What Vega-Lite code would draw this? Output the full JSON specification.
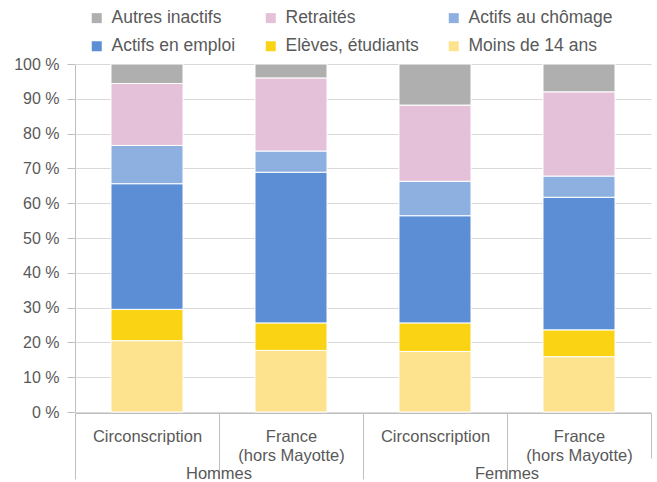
{
  "$schema": "https://vega.github.io/schema/vega-lite/v6.json",
  "padding": {"left": 5, "top": 9, "right": 5, "bottom": 0},
  "config": {
    "font": "Liberation Sans",
    "view": {"stroke": null},
    "facet": {"spacing": 0}
  },
  "data": {
    "values": [
      {"sexe": "Hommes", "zone": "Circonscription", "categorie": "Moins de 14 ans", "pct": 20.5},
      {"sexe": "Hommes", "zone": "Circonscription", "categorie": "Elèves, étudiants", "pct": 9.0},
      {"sexe": "Hommes", "zone": "Circonscription", "categorie": "Actifs en emploi", "pct": 36.1},
      {"sexe": "Hommes", "zone": "Circonscription", "categorie": "Actifs au chômage", "pct": 11.0},
      {"sexe": "Hommes", "zone": "Circonscription", "categorie": "Retraités", "pct": 17.8},
      {"sexe": "Hommes", "zone": "Circonscription", "categorie": "Autres inactifs", "pct": 5.6},
      {"sexe": "Hommes", "zone": "France (hors Mayotte)", "categorie": "Moins de 14 ans", "pct": 17.7},
      {"sexe": "Hommes", "zone": "France (hors Mayotte)", "categorie": "Elèves, étudiants", "pct": 7.9},
      {"sexe": "Hommes", "zone": "France (hors Mayotte)", "categorie": "Actifs en emploi", "pct": 43.3},
      {"sexe": "Hommes", "zone": "France (hors Mayotte)", "categorie": "Actifs au chômage", "pct": 6.1},
      {"sexe": "Hommes", "zone": "France (hors Mayotte)", "categorie": "Retraités", "pct": 21.0},
      {"sexe": "Hommes", "zone": "France (hors Mayotte)", "categorie": "Autres inactifs", "pct": 4.0},
      {"sexe": "Femmes", "zone": "Circonscription", "categorie": "Moins de 14 ans", "pct": 17.4},
      {"sexe": "Femmes", "zone": "Circonscription", "categorie": "Elèves, étudiants", "pct": 8.2},
      {"sexe": "Femmes", "zone": "Circonscription", "categorie": "Actifs en emploi", "pct": 30.8},
      {"sexe": "Femmes", "zone": "Circonscription", "categorie": "Actifs au chômage", "pct": 9.9},
      {"sexe": "Femmes", "zone": "Circonscription", "categorie": "Retraités", "pct": 21.9},
      {"sexe": "Femmes", "zone": "Circonscription", "categorie": "Autres inactifs", "pct": 11.8},
      {"sexe": "Femmes", "zone": "France (hors Mayotte)", "categorie": "Moins de 14 ans", "pct": 15.9},
      {"sexe": "Femmes", "zone": "France (hors Mayotte)", "categorie": "Elèves, étudiants", "pct": 7.7},
      {"sexe": "Femmes", "zone": "France (hors Mayotte)", "categorie": "Actifs en emploi", "pct": 38.1},
      {"sexe": "Femmes", "zone": "France (hors Mayotte)", "categorie": "Actifs au chômage", "pct": 6.1},
      {"sexe": "Femmes", "zone": "France (hors Mayotte)", "categorie": "Retraités", "pct": 24.2},
      {"sexe": "Femmes", "zone": "France (hors Mayotte)", "categorie": "Autres inactifs", "pct": 8.0}
    ]
  },
  "transform": [
    {"calculate": "indexof(['Moins de 14 ans', 'Elèves, étudiants', 'Actifs en emploi', 'Actifs au chômage', 'Retraités', 'Autres inactifs'], datum.categorie)", "as": "rang"}
  ],
  "facet": {
    "column": {
      "field": "sexe",
      "type": "nominal",
      "sort": ["Hommes", "Femmes"],
      "header": {
        "title": null,
        "labelOrient": "bottom",
        "labelFontSize": 16.5,
        "labelColor": "#595959",
        "labelPadding": -14
      }
    }
  },
  "spec": {
    "width": 288,
    "height": 348,
    "mark": {"type": "bar", "width": {"band": 0.5}, "stroke": "#ffffff", "strokeWidth": 1},
    "encoding": {
      "x": {
        "field": "zone",
        "type": "nominal",
        "sort": ["Circonscription", "France (hors Mayotte)"],
        "scale": {"paddingInner": 0, "paddingOuter": 0},
        "axis": {
          "title": null,
          "labelAngle": 0,
          "tickBand": "extent",
          "tickSize": {"condition": {"test": "datum.value == 'France (hors Mayotte)'", "value": 45}, "value": 66},
          "labelPadding": {"condition": {"test": "datum.value == 'France (hors Mayotte)'", "value": -30}, "value": -51},
          "labelExpr": "datum.value == 'France (hors Mayotte)' ? ['France', '(hors Mayotte)'] : datum.value",
          "labelLineHeight": 19,
          "labelFontSize": 16.5,
          "labelColor": "#595959",
          "domainColor": "#BFBFBF",
          "tickColor": "#BFBFBF",
          "grid": false
        }
      },
      "y": {
        "field": "pct",
        "type": "quantitative",
        "stack": "normalize",
        "scale": {"domain": [0, 1]},
        "axis": {
          "title": null,
          "values": [0, 0.1, 0.2, 0.3, 0.4, 0.5, 0.6, 0.7, 0.8, 0.9, 1],
          "labelExpr": "round(datum.value * 100) + ' %'",
          "labelFontSize": 16,
          "labelColor": "#595959",
          "labelPadding": 8,
          "tickSize": 8,
          "tickColor": "#BFBFBF",
          "domainColor": "#BFBFBF",
          "gridColor": "#D9D9D9",
          "minExtent": 70
        }
      },
      "order": {"field": "rang", "type": "quantitative", "sort": "ascending"},
      "color": {
        "field": "categorie",
        "type": "nominal",
        "sort": ["Autres inactifs", "Retraités", "Actifs au chômage", "Actifs en emploi", "Elèves, étudiants", "Moins de 14 ans"],
        "scale": {
          "domain": ["Autres inactifs", "Retraités", "Actifs au chômage", "Actifs en emploi", "Elèves, étudiants", "Moins de 14 ans"],
          "range": ["#AFAFAF", "#E4C1D9", "#8EB0E0", "#5B8ED5", "#FAD414", "#FEE38F"]
        },
        "legend": {
          "title": null,
          "orient": "none",
          "legendX": 13,
          "legendY": -55,
          "columns": 3,
          "direction": "horizontal",
          "symbolType": "square",
          "symbolSize": 100,
          "symbolStrokeWidth": 0,
          "labelFontSize": 17.5,
          "labelColor": "#595959",
          "labelOffset": 6,
          "columnPadding": 26,
          "rowPadding": 9.5,
          "labelLimit": 300
        }
      }
    }
  }
}
